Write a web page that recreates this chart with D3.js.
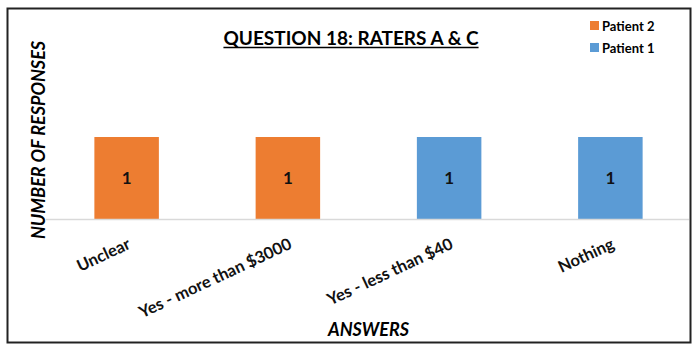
<!DOCTYPE html>
<html>
<head>
<meta charset="utf-8">
<script src="https://cdn.jsdelivr.net/npm/d3@7"></script>
<style>
  body { margin: 0; background: #fff; }
  text { font-family: Lato, "Open Sans", sans-serif; fill: #000; }
</style>
</head>
<body>
<svg id="chart"></svg>
<script>
// data
const answers = ["Unclear", "Yes - more than $3000", "Yes - less than $40", "Nothing"];
const patient2 = [1, 1, 0, 0];
const patient1 = [0, 0, 1, 1];
const seriesNames = ["Patient 2", "Patient 1"];
const seriesColors = ["#ED7D31", "#5B9BD5"];

const width = 700, height = 352;
const marginTop = 120, marginRight = 9, marginBottom = 133, marginLeft = 46;

const svg = d3.select("#chart")
  .attr("width", width)
  .attr("height", height);

// frame around everything
svg.append("rect")
  .attr("x", 7.5)
  .attr("y", 8.5)
  .attr("width", 683)
  .attr("height", 334)
  .attr("fill", "#fff")
  .attr("stroke", "#222")
  .attr("stroke-width", 2);

const rows = answers.map((a, i) => ({ answer: a, "Patient 2": patient2[i], "Patient 1": patient1[i] }));
const stacked = d3.stack().keys(seriesNames)(rows);

const x = d3.scaleBand()
  .domain(answers)
  .range([marginLeft, width - marginRight])
  .paddingInner(0.6)
  .paddingOuter(0.3);

// value 1 reaches y=137, baseline at y=219
const y = d3.scaleLinear()
  .domain([0, 1.2])
  .range([height - marginBottom, height - marginBottom - 82 * 1.2]);

// bars
const layer = svg.selectAll("g.layer")
  .data(stacked)
  .join("g")
  .attr("class", "layer")
  .attr("fill", (d, i) => seriesColors[i]);

layer.selectAll("rect")
  .data(d => d.filter(p => p[1] - p[0] > 0))
  .join("rect")
  .attr("x", d => x(d.data.answer))
  .attr("y", d => y(d[1]))
  .attr("width", x.bandwidth())
  .attr("height", d => y(d[0]) - y(d[1]));

// value labels
layer.selectAll("text")
  .data(d => d.filter(p => p[1] - p[0] > 0))
  .join("text")
  .attr("x", d => x(d.data.answer) + x.bandwidth() / 2)
  .attr("y", d => (y(d[0]) + y(d[1])) / 2)
  .attr("dy", "0.35em")
  .attr("text-anchor", "middle")
  .style("font-size", "17px")
  .style("font-weight", "bold")
  .style("fill", "#111")
  .text(d => d[1] - d[0]);

// category axis
const xAxis = svg.append("g")
  .attr("transform", `translate(0,${y(0)})`)
  .call(d3.axisBottom(x).tickSize(0).tickSizeOuter(0));
xAxis.select(".domain")
  .attr("stroke", "#d9d9d9")
  .attr("stroke-width", 1.5)
  .attr("d", `M${marginLeft},0.5H${width - marginRight - 2}`);
xAxis.selectAll(".tick text")
  .attr("x", 0)
  .attr("y", 0)
  .attr("dy", 0)
  .attr("text-anchor", "end")
  .attr("transform", "translate(5,29) rotate(-25)")
  .style("font-family", "Lato, 'Open Sans', sans-serif")
  .style("font-size", "16.5px")
  .style("font-weight", "bold")
  .style("fill", "#111");

// title
const title = svg.append("text")
  .attr("x", 351)
  .attr("y", 45)
  .attr("text-anchor", "middle")
  .style("font-size", "19px")
  .style("font-weight", "bold")
  .text("QUESTION 18: RATERS A & C");
const tw = title.node().getComputedTextLength();
svg.append("line")
  .attr("x1", 351 - tw / 2)
  .attr("x2", 351 + tw / 2)
  .attr("y1", 47.5)
  .attr("y2", 47.5)
  .attr("stroke", "#000")
  .attr("stroke-width", 1.5);

// axis titles
svg.append("text")
  .attr("transform", `translate(45,140) rotate(-90)`)
  .attr("text-anchor", "middle")
  .style("font-size", "18px")
  .style("font-weight", "bold")
  .style("font-style", "italic")
  .text("NUMBER OF RESPONSES");

svg.append("text")
  .attr("x", (marginLeft + width - marginRight) / 2)
  .attr("y", 336)
  .attr("text-anchor", "middle")
  .style("font-size", "18px")
  .style("font-weight", "bold")
  .style("font-style", "italic")
  .text("ANSWERS");

// legend
const legend = svg.selectAll("g.legend")
  .data(seriesNames)
  .join("g")
  .attr("class", "legend")
  .attr("transform", (d, i) => `translate(590,${21 + i * 22})`);
legend.append("rect")
  .attr("width", 9)
  .attr("height", 9)
  .attr("fill", (d, i) => seriesColors[i]);
legend.append("text")
  .attr("x", 12)
  .attr("y", 9.5)
  .style("font-size", "13px")
  .style("font-weight", "bold")
  .text(d => d);
</script>
</body>
</html>
